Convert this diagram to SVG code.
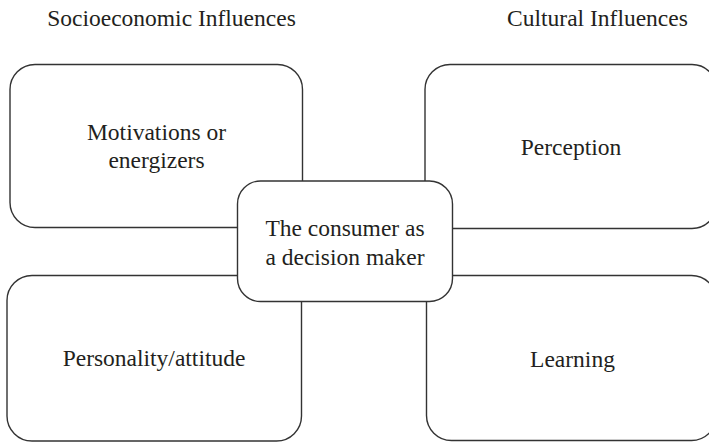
<svg xmlns="http://www.w3.org/2000/svg" width="709" height="442" viewBox="0 0 709 442">
<style>
.box{fill:#fff;stroke:#333;stroke-width:1.4}
.t{font-family:"Liberation Serif","Times New Roman",serif;font-size:23.5px;fill:#231f20;text-anchor:middle}
</style>
<rect width="709" height="442" fill="#fff"/>
<text class="t" x="171.5" y="26">Socioeconomic Influences</text>
<text class="t" x="597.5" y="26">Cultural Influences</text>
<g id="motivations">
<rect class="box" x="10" y="64.5" width="292.5" height="163" rx="25"/>
<text class="t" x="156.5" y="140">Motivations or</text>
<text class="t" x="156.5" y="168">energizers</text>
</g>
<g id="perception">
<rect class="box" x="425" y="64.5" width="292" height="164" rx="25"/>
<text class="t" x="571" y="155">Perception</text>
</g>
<g id="personality">
<rect class="box" x="7" y="275.5" width="294.5" height="165.5" rx="25"/>
<text class="t" x="154" y="366">Personality/attitude</text>
</g>
<g id="learning">
<rect class="box" x="426.5" y="275.5" width="290" height="165" rx="25"/>
<text class="t" x="572.5" y="367">Learning</text>
</g>
<g id="connectors"></g>
<g id="consumer">
<rect class="box" x="237.5" y="181" width="215" height="120.5" rx="23"/>
<text class="t" x="345" y="236">The consumer as</text>
<text class="t" x="345" y="265">a decision maker</text>
</g>
</svg>
